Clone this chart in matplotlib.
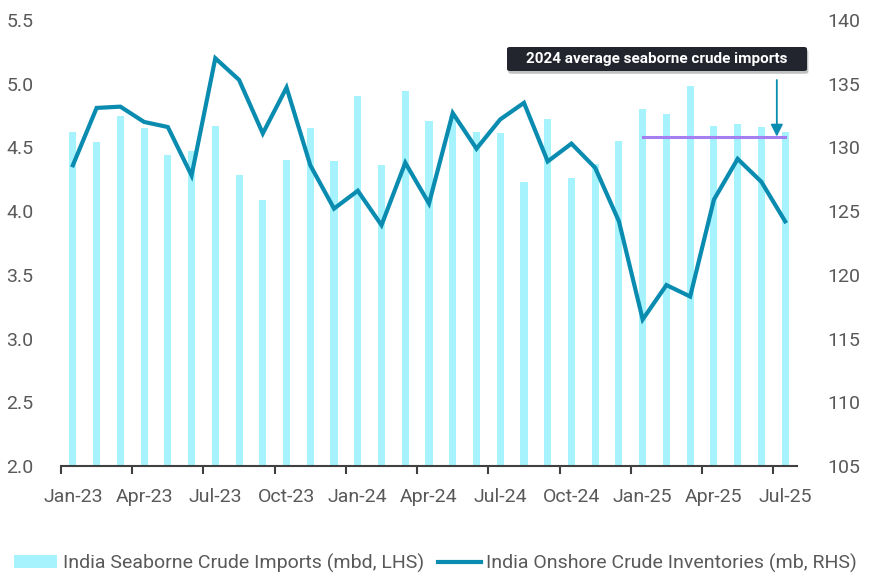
import matplotlib
matplotlib.use("Agg")
import matplotlib.pyplot as plt
import matplotlib.patheffects as pe
from matplotlib.patches import FancyBboxPatch
import numpy as np

plt.rcParams['font.family'] = ['Roboto', 'DejaVu Sans']

# monthly categories Jan-23 .. Jul-25
months = ['Jan-23', 'Feb-23', 'Mar-23', 'Apr-23', 'May-23', 'Jun-23', 'Jul-23', 'Aug-23',
          'Sep-23', 'Oct-23', 'Nov-23', 'Dec-23', 'Jan-24', 'Feb-24', 'Mar-24', 'Apr-24',
          'May-24', 'Jun-24', 'Jul-24', 'Aug-24', 'Sep-24', 'Oct-24', 'Nov-24', 'Dec-24',
          'Jan-25', 'Feb-25', 'Mar-25', 'Apr-25', 'May-25', 'Jun-25', 'Jul-25']

# seaborne crude imports, mbd (LHS)
imports = [4.62, 4.54, 4.75, 4.65, 4.44, 4.47, 4.67, 4.28, 4.09, 4.40, 4.65, 4.39,
           4.90, 4.36, 4.94, 4.71, 4.75, 4.62, 4.61, 4.23, 4.72, 4.26, 4.37, 4.55,
           4.80, 4.76, 4.98, 4.67, 4.68, 4.66, 4.62]

# onshore crude inventories, mb (RHS)
inventories = [128.6, 133.1, 133.2, 132.0, 131.6, 127.8, 137.0, 135.3, 131.1, 134.7, 128.6, 125.2,
               126.6, 123.9, 128.8, 125.6, 132.7, 129.9, 132.2, 133.5, 128.9, 130.3, 128.4, 124.2,
               116.5, 119.2, 118.3, 125.9, 129.1, 127.3, 124.2]

left_ticks = [2.0, 2.5, 3.0, 3.5, 4.0, 4.5, 5.0, 5.5]
right_ticks = [105, 110, 115, 120, 125, 130, 135, 140]

bar_color = '#A6F3FD'
line_color = '#0A8BB0'
avg_color = '#A57EF2'
text_color = '#595959'

x = np.arange(len(months))
avg_2024 = np.mean([v for m, v in zip(months, imports) if m.endswith('-24')])

fig = plt.figure(figsize=(8.84, 5.86), dpi=100)
ax = fig.add_axes([61 / 884, 1 - 466 / 586, (797 - 61) / 884, (466 - 20) / 586])
ax2 = ax.twinx()

ax.bar(x, imports, width=0.3, color=bar_color, zorder=2,
       label='India Seaborne Crude Imports (mbd, LHS)')
ax2.plot(x, inventories, color=line_color, lw=3, solid_joinstyle='miter',
         label='India Onshore Crude Inventories (mb, RHS)', zorder=3)

# 2024 average line over 2025 months
idx25 = [i for i, m in enumerate(months) if m.endswith('-25')]
ax.plot([idx25[0], idx25[-1]], [avg_2024, avg_2024], color=avg_color, lw=2.2, zorder=4)

ax.set_xlim(-0.5, len(months) - 0.5)
ax.set_ylim(2.0, 5.5)
ax2.set_ylim(105, 140)
ax.set_yticks(left_ticks)
ax.set_yticklabels([f'{t:.1f}' for t in left_ticks])
ax2.set_yticks(right_ticks)
ax2.set_yticklabels([str(t) for t in right_ticks])

# ticks on category boundaries, labels on category centres
ax.set_xticks(x[::3] - 0.5)
ax.set_xticklabels([])
ax.set_xticks(x[::3], minor=True)
ax.set_xticklabels(months[::3], minor=True)
ax.tick_params(axis='x', which='major', length=6, width=1.5, color='#404040', direction='out')
ax.tick_params(axis='x', which='minor', length=0, pad=16, labelsize=14, labelcolor=text_color)
ax.tick_params(axis='y', length=0, pad=20, labelsize=14, labelcolor=text_color)
ax2.tick_params(axis='y', length=0, pad=22, labelsize=14, labelcolor=text_color)

for a in (ax, ax2):
    for s in ('top', 'left', 'right', 'bottom'):
        a.spines[s].set_visible(False)
ax.spines['bottom'].set_visible(True)
ax.spines['bottom'].set_color('#404040')
ax.spines['bottom'].set_linewidth(1.5)

# annotation box with arrow
ax.annotate('', xy=(29.65, avg_2024), xytext=(29.65, 1 - 60 / 446),
            textcoords=('data', 'axes fraction'),
            arrowprops=dict(arrowstyle='-|>', color=line_color, lw=1.3,
                            mutation_scale=18, shrinkA=0, shrinkB=0), zorder=5)
bx0, bx1, by0, by1 = 507, 807, 47, 71
box = FancyBboxPatch(((bx0 - 61) / 736, 1 - (by1 - 20) / 446), (bx1 - bx0) / 736, (by1 - by0) / 446,
                     boxstyle='round,pad=0,rounding_size=0.004', transform=ax.transAxes,
                     fc='#22252E', ec='none', zorder=6, clip_on=False)
box.set_path_effects([pe.SimplePatchShadow(offset=(1, -2), alpha=0.25), pe.Normal()])
ax.add_patch(box)
ax.text(((bx0 + bx1) / 2 - 61) / 736, 1 - ((by0 + by1) / 2 - 20) / 446,
        '2024 average seaborne crude imports', transform=ax.transAxes,
        ha='center', va='center', color='white', fontsize=11, fontweight='bold', zorder=7)

h1, l1 = ax.get_legend_handles_labels()
h2, l2 = ax2.get_legend_handles_labels()
leg = fig.legend(h1 + h2, l1 + l2, loc='center', bbox_to_anchor=(0.493, 0.039), ncol=2,
                 frameon=False, fontsize=14, handlelength=2.2, handleheight=0.65,
                 handletextpad=0.3, columnspacing=0.7, borderaxespad=0)
for t in leg.get_texts():
    t.set_color(text_color)

fig.savefig('out.png', dpi=100)
